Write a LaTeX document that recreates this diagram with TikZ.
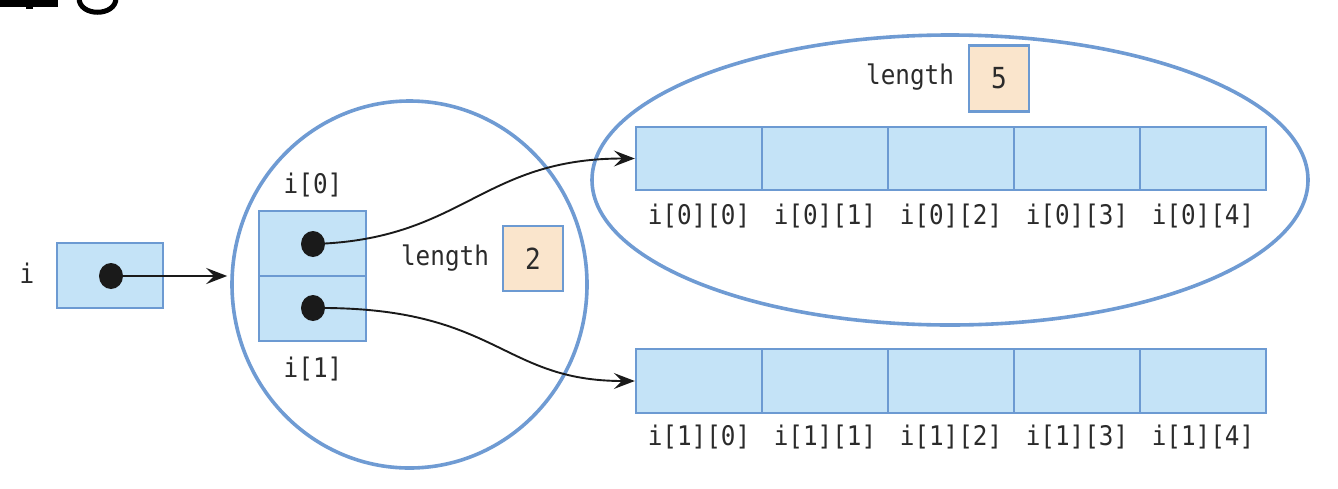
\documentclass[tikz,border=0pt]{standalone}
\usepackage{fontspec}
\newfontfamily\codefont[FakeStretch=0.9]{DejaVu Sans Mono}
\usetikzlibrary{arrows.meta,shapes.geometric}
\definecolor{cellfill}{HTML}{C4E3F7}
\definecolor{cellline}{HTML}{6C9AD2}
\definecolor{lenfill}{HTML}{FAE5CC}
\definecolor{ringline}{HTML}{6F9BD3}
\definecolor{ink}{HTML}{1A1A1A}
\definecolor{txt}{HTML}{2B2B2B}
\tikzset{
  lbl/.style={font=\codefont\fontsize{27}{27}\selectfont, text=txt, inner sep=0pt},
  cellbox/.style={draw=cellline, fill=cellfill, line width=2.4pt, inner sep=0pt, minimum width=126pt, minimum height=63pt},
  lenbox/.style={draw=cellline, fill=lenfill, line width=2.4pt, inner sep=0pt, font=\codefont\fontsize{29}{29}\selectfont, text=txt},
  ring/.style={draw=ringline, line width=3.6pt, ellipse, inner sep=0pt},
  dotnode/.style={ellipse, fill=ink, inner sep=0pt, minimum width=24pt, minimum height=26pt},
  ptr/.style={draw=ink, line width=1.9pt, -{Stealth[length=21pt,width=16pt,inset=8pt]}},
}
\begin{document}
\begin{tikzpicture}[x=1pt,y=-1pt]
\useasboundingbox (0,0) rectangle (1338,488);
% cropped heading fragment (bottoms of cut-off glyphs)
\fill[black] (0,0) rectangle (58,7);
\fill[black] (26,0) rectangle (33,9);
\draw[black, line width=5pt] (79,-2) .. controls (79,17) and (116,17) .. (116,-2);
% rings
\node[ring, minimum width=355pt, minimum height=367pt] (ring0) at (409.5,284.5) {};
\node[ring, minimum width=716pt, minimum height=290pt] (ring1) at (950,180) {};
% variable i
\node[lbl] (ilbl) at (27,273) {i};
\node[cellbox, minimum width=106pt, minimum height=65pt] (ibox) at (110,275.5) {};
\node[dotnode] (idot) at (111,276) {};
% i[0], i[1]
\node[cellbox, minimum width=107pt, minimum height=65pt] (c0) at (312.5,243.5) {};
\node[cellbox, minimum width=107pt, minimum height=65pt] (c1) at (312.5,308.5) {};
\node[dotnode] (d0) at (313,244) {};
\node[dotnode] (d1) at (313,308) {};
\node[lbl] (l0) at (313,185) {i[0]};
\node[lbl] (l1) at (313,369) {i[1]};
\node[lbl] (len0) at (445,258) {length};
\node[lenbox, minimum width=60pt, minimum height=65pt] (n0) at (533,258.5) {2};
% top row
\node[lbl] (len1) at (910,77) {length};
\node[lenbox, minimum width=60pt, minimum height=66pt] (n1) at (999,78.5) {5};
\foreach \k/\x in {0/699,1/825,2/951,3/1077,4/1203} {
  \node[cellbox] (a0c\k) at (\x,158.5) {};
  \node[lbl] (a0l\k) at (\x,216) {i[0][\k]};
  \node[cellbox, minimum height=64pt] (a1c\k) at (\x,381) {};
  \node[lbl] (a1l\k) at (\x,437) {i[1][\k]};
}
% pointers
\draw[ptr, line width=2.8pt, shorten >=3pt] (idot.center) -- (idot.center -| ring0.west);
\draw[ptr] (d0.center) .. controls +(150,-4) and +(-154,0) .. (a0c0.west);
\draw[ptr] (d1.center) .. controls +(185,-2) and +(-135,0) .. (a1c0.west);
\end{tikzpicture}
\end{document}
